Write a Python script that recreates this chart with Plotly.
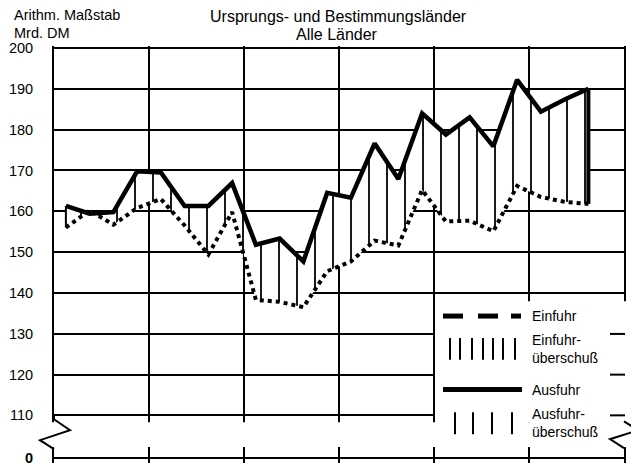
import plotly.graph_objects as go

# ---------------- data (quarterly, Mrd. DM) ----------------
period_years = [1991] * 4 + [1992] * 4 + [1993] * 4 + [1994] * 4 + [1995] * 4 + [1996] * 3
period_quarters = [1, 2, 3, 4] * 5 + [1, 2, 3]
ausfuhr = [161.3, 159.4, 159.8, 169.8, 169.5, 161.3, 161.3, 166.9,
           151.8, 153.3, 147.7, 164.5, 163.3, 176.6, 167.9, 184.0,
           178.8, 183.0, 175.9, 192.2, 184.4, 187.4, 190.0]
einfuhr = [156.0, 160.2, 156.7, 160.8, 163.0, 156.5, 149.4, 159.8,
           138.3, 137.8, 136.5, 145.3, 147.7, 152.8, 151.6, 165.2,
           157.5, 157.7, 155.1, 166.2, 163.5, 162.3, 161.8]
year_boundaries = [1992, 1993, 1994, 1995, 1996]
ytick_values = [110, 120, 130, 140, 150, 160, 170, 180, 190, 200]
ytick_labels = ["110", "120", "130", "140", "150", "160", "170", "180", "190", "200"]
zero_label = "0"

# ---------------- geometry helpers (pixel -> paper) ----------------
# the page body has an 8px margin, so the figure is made smaller by that amount
OFF = 8
W, H = 639, 466
ML, MR, MT, MB = 54 - OFF, 15, 46 - OFF, 0
FW, FH = W - OFF, H - OFF
PW, PH = FW - ML - MR, FH - MT - MB
PX_PER_UNIT = 370 / 90.0
Y_TOP = 200 + 2 / PX_PER_UNIT
Y_BOT = Y_TOP - PH / PX_PER_UNIT
ZERO_POS = 110 - 43 / PX_PER_UNIT  # position of the broken-axis zero line


def XP(px):
    return (px - 54) / PW


def YP(py):
    return (466 - py) / PH


xs = [y + (q - 0.5) / 4 for y, q in zip(period_years, period_quarters)]

# insert crossing points so the two surplus areas are separated cleanly
xx, aa, ee = [], [], []
n = len(xs)
for i in range(n):
    xx.append(xs[i]); aa.append(ausfuhr[i]); ee.append(einfuhr[i])
    if i < n - 1:
        d0 = ausfuhr[i] - einfuhr[i]
        d1 = ausfuhr[i + 1] - einfuhr[i + 1]
        if d0 * d1 < 0:
            t = d0 / (d0 - d1)
            xc = xs[i] + t * (xs[i + 1] - xs[i])
            yc = ausfuhr[i] + t * (ausfuhr[i + 1] - ausfuhr[i])
            xx.append(xc); aa.append(yc); ee.append(yc)
base = [min(a, e) for a, e in zip(aa, ee)]

fig = go.Figure()
noline = dict(width=0, color="rgba(0,0,0,0)")

# Ausfuhrüberschuß (sparse hatch)
fig.add_trace(go.Scatter(x=xx, y=base, mode="lines", line=noline, hoverinfo="skip", showlegend=False))
fig.add_trace(go.Scatter(x=xx, y=aa, mode="lines", line=noline, fill="tonexty", fillcolor="white",
                         fillpattern=dict(shape="|", size=18, solidity=0.1, fgcolor="black",
                                          bgcolor="white", fillmode="replace"),
                         hoverinfo="skip", showlegend=False))
# Einfuhrüberschuß (dense hatch)
fig.add_trace(go.Scatter(x=xx, y=base, mode="lines", line=noline, hoverinfo="skip", showlegend=False))
fig.add_trace(go.Scatter(x=xx, y=ee, mode="lines", line=noline, fill="tonexty", fillcolor="white",
                         fillpattern=dict(shape="|", size=8, solidity=0.25, fgcolor="black",
                                          bgcolor="white", fillmode="replace"),
                         hoverinfo="skip", showlegend=False))
# Einfuhr line (dotted)
fig.add_trace(go.Scatter(x=xs, y=einfuhr, mode="lines", name="Einfuhr",
                         line=dict(color="black", width=4, dash="dot"), showlegend=False))
# Ausfuhr line (solid)
fig.add_trace(go.Scatter(x=xs, y=ausfuhr, mode="lines", name="Ausfuhr",
                         line=dict(color="black", width=4.5), showlegend=False))
# closing edges of the hatched area
fig.add_trace(go.Scatter(x=[xs[0], xs[0]], y=[ausfuhr[0], einfuhr[0]], mode="lines",
                         line=dict(color="black", width=2), hoverinfo="skip", showlegend=False))
fig.add_trace(go.Scatter(x=[xs[-1], xs[-1]], y=[ausfuhr[-1], einfuhr[-1]], mode="lines",
                         line=dict(color="black", width=4), hoverinfo="skip", showlegend=False))

FONT = "Liberation Sans, Arial, sans-serif"

fig.update_layout(
    width=FW, height=FH,
    margin=dict(l=ML, r=MR, t=MT, b=MB, pad=0),
    paper_bgcolor="white", plot_bgcolor="white",
    font=dict(family=FONT, color="black", size=14),
    xaxis=dict(range=[1991, 1997], tickvals=year_boundaries, showticklabels=False, ticks="",
               showgrid=True, gridcolor="black", gridwidth=2, zeroline=False, showline=False,
               fixedrange=True),
    yaxis=dict(range=[Y_BOT, Y_TOP], tickvals=[ZERO_POS] + ytick_values,
               ticktext=["<b>" + zero_label + "</b>"] + ytick_labels,
               showgrid=True, gridcolor="black", gridwidth=2, zeroline=False,
               showline=True, linecolor="black", linewidth=2, mirror=True,
               ticks="", ticklabelstandoff=16, ticklabeloverflow="allow",
               tickfont=dict(size=14.5, family=FONT, color="black"),
               fixedrange=True),
    showlegend=False,
)

shapes = []
# axis break: white band
shapes.append(dict(type="rect", xref="paper", yref="paper", x0=XP(42), x1=XP(636), y0=YP(450), y1=YP(425),
                   fillcolor="white", line=dict(width=0), layer="above"))
# legend box
shapes.append(dict(type="rect", xref="paper", yref="paper", x0=XP(435), x1=XP(630), y0=YP(425), y1=YP(303),
                   fillcolor="white", line=dict(width=0), layer="above"))
# right stubs of gridlines inside legend area
for py in [336, 377, 418]:
    shapes.append(dict(type="line", xref="paper", yref="paper", x0=XP(610), x1=XP(625), y0=YP(py), y1=YP(py),
                       line=dict(color="black", width=2), layer="above"))


def path(points):
    return "M " + " L ".join(f"{XP(a):.5f},{YP(b):.5f}" for a, b in points)


shapes.append(dict(type="path", xref="paper", yref="paper",
                   path=path([(54, 418), (54, 422), (70, 433), (40, 443), (54, 452)]),
                   line=dict(color="black", width=2), layer="above"))
shapes.append(dict(type="path", xref="paper", yref="paper",
                   path=path([(624, 424), (638, 433), (610, 442), (624, 451)]),
                   line=dict(color="black", width=2), layer="above"))

# legend glyphs
for a, b in [(443, 463), (478, 498), (511, 521)]:
    shapes.append(dict(type="line", xref="paper", yref="paper", x0=XP(a), x1=XP(b), y0=YP(318), y1=YP(318),
                       line=dict(color="black", width=5), layer="above"))
for px in [450, 460, 472, 483, 493, 503, 515]:
    shapes.append(dict(type="line", xref="paper", yref="paper", x0=XP(px), x1=XP(px), y0=YP(340), y1=YP(362),
                       line=dict(color="black", width=2), layer="above"))
shapes.append(dict(type="line", xref="paper", yref="paper", x0=XP(443), x1=XP(522), y0=YP(392), y1=YP(392),
                   line=dict(color="black", width=5), layer="above"))
for px in [455, 473, 492, 512]:
    shapes.append(dict(type="line", xref="paper", yref="paper", x0=XP(px), x1=XP(px), y0=YP(415), y1=YP(437),
                       line=dict(color="black", width=2), layer="above"))
fig.update_layout(shapes=shapes)

ann = []


def text(t, px, py, size=14, anchor="left"):
    ann.append(dict(text=t, xref="paper", yref="paper", x=XP(px), y=YP(py), xanchor=anchor, yanchor="middle",
                    showarrow=False, font=dict(size=size, family=FONT, color="black")))


text("Arithm. Maßstab", 12, 15, 14.5)
text("Mrd. DM", 12, 33, 14.5)
text("Ursprungs- und Bestimmungsländer", 338, 16, 16, "center")
text("Alle Länder", 337, 34, 16, "center")
text("Einfuhr", 530, 318)
text("Einfuhr-", 530, 342)
text("überschuß", 530, 360)
text("Ausfuhr", 530, 392)
text("Ausfuhr-", 530, 417)
text("überschuß", 530, 435)
fig.update_layout(annotations=ann)

fig.write_html("out.html")
